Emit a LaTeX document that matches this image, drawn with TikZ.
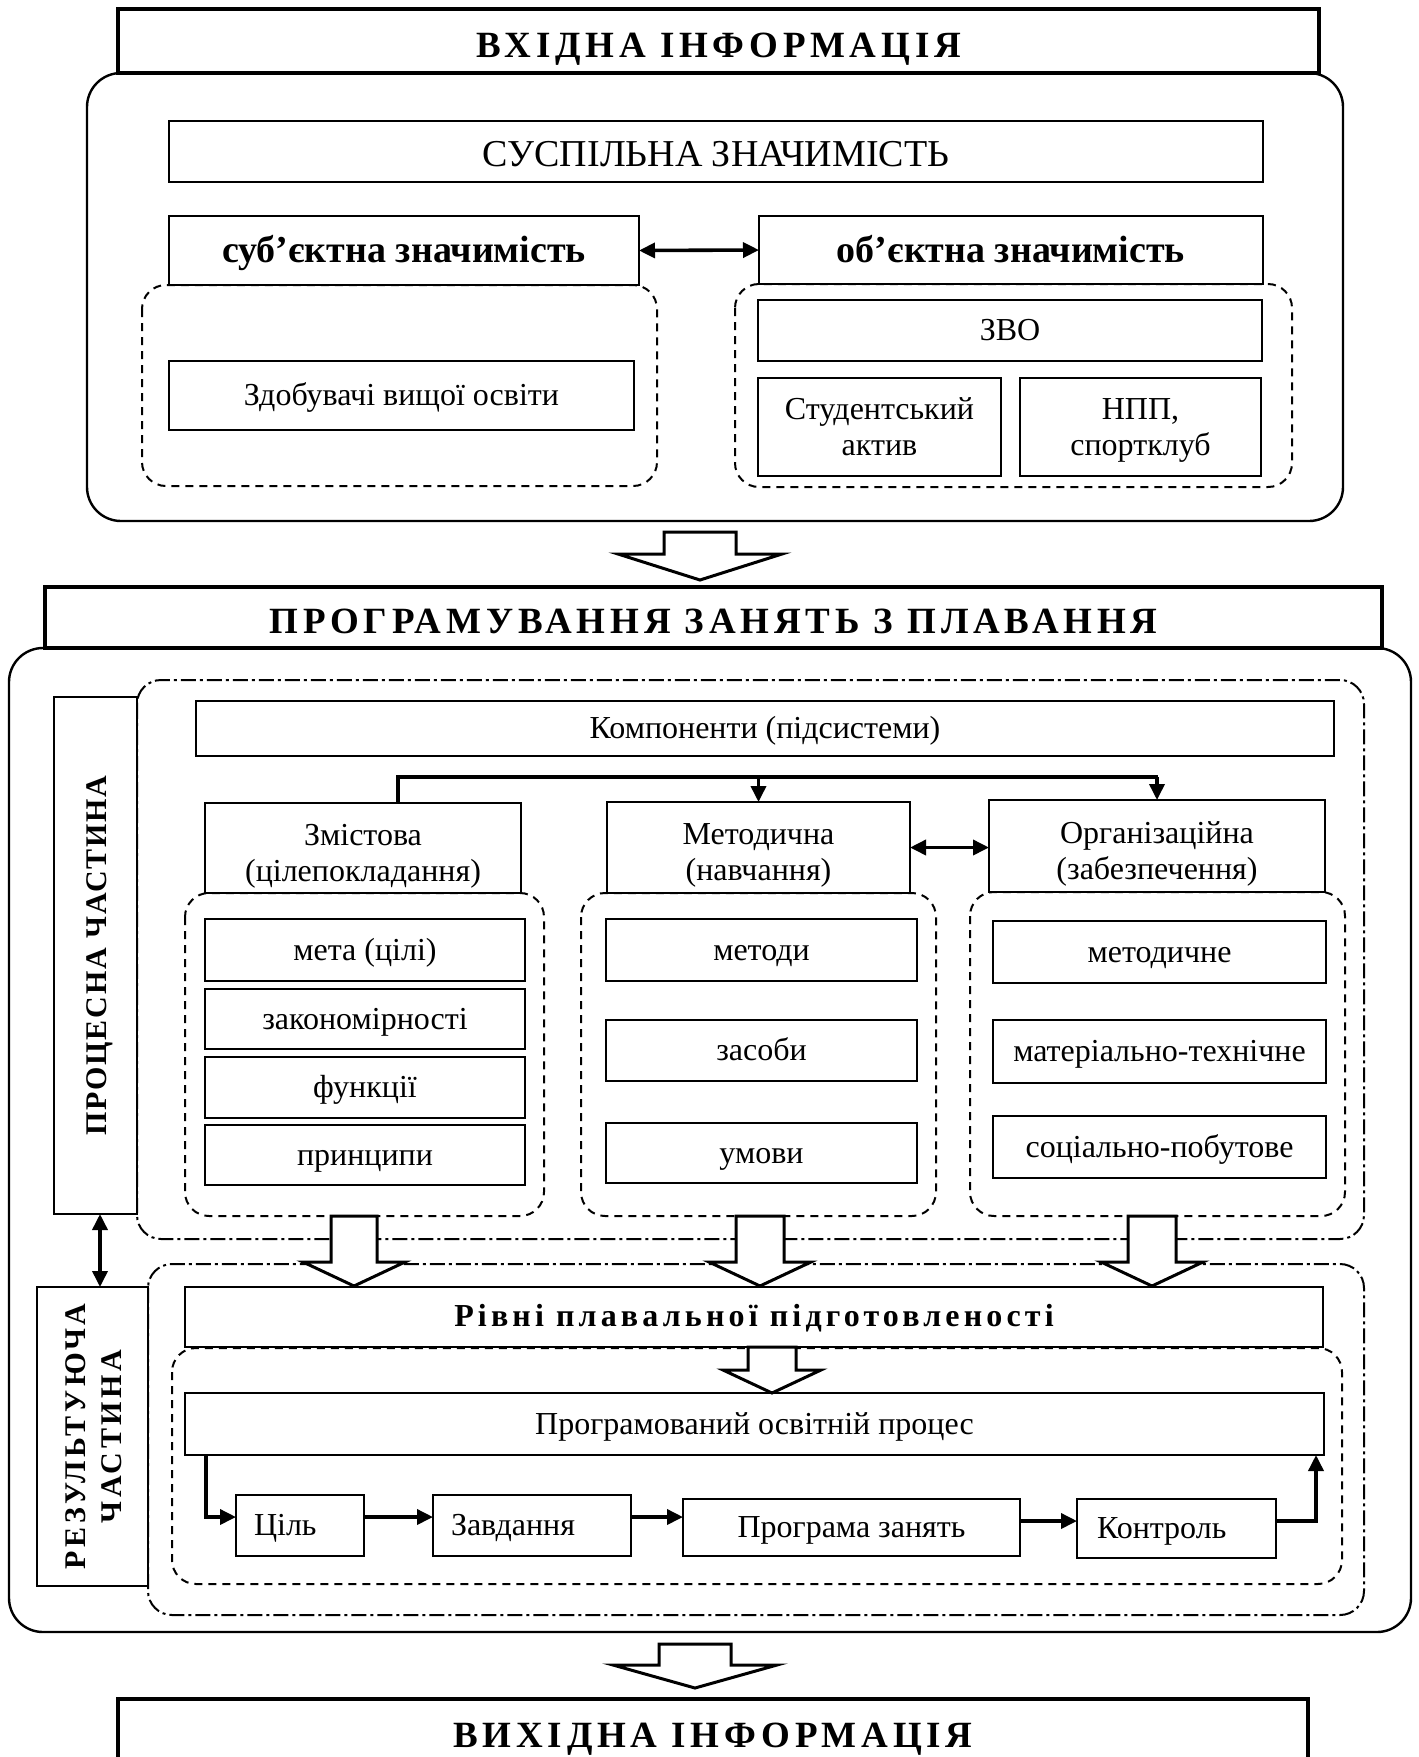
\documentclass[tikz,border=0pt]{standalone}
\usepackage{fontspec}
\setmainfont{Liberation Serif}
\usetikzlibrary{arrows.meta}
\usetikzlibrary{calc}
\usetikzlibrary{positioning}

% box from (x1,y1) to (x2,y2), in pixels of the original scheme
\newcommand{\rbox}[7][]{%
  \node[box,#1,minimum width={(#4-#2)*0.5pt},minimum height={(#5-#3)*0.5pt}] (#6) at ({(#2+#4)/2},{(#3+#5)/2}) {#7};}
% hollow block arrow: centre x, top, neck, tip, half shaft, half head
\newcommand{\fatarrow}[6]{%
  \draw[hollow] ({#1-#5},#2) -- ({#1+#5},#2) -- ({#1+#5},#3) -- ({#1+#6},#3) -- (#1,#4) -- ({#1-#6},#3) -- ({#1-#5},#3) -- cycle;}

\tikzset{
  box/.style={draw,line width=1pt,fill=white,inner sep=0pt,outer sep=0pt,align=center,
    text height=14.5pt,text depth=4.4pt,font=\fontsize{16}{18}\selectfont},
  two/.style={text height=33pt,text depth=4.4pt},
  comp/.style={text height=37.5pt,text depth=4.4pt},
  bigbox/.style={box,line width=1.2pt,text height=20pt,text depth=5pt,font=\fontsize{19}{22}\selectfont},
  subbox/.style={box,line width=1.2pt,text height=17.4pt,text depth=5pt,font=\fontsize{19}{22}\selectfont\bfseries},
  headbox/.style={box,line width=1.8pt,text height=16pt,text depth=0pt,
    font=\fontsize{18.5}{22}\selectfont\bfseries\addfontfeatures{LetterSpace=13}},
  sidebox/.style={box,line width=1.2pt,text height=10.5pt,text depth=0pt,
    font=\fontsize{15}{18}\selectfont\bfseries\addfontfeatures{LetterSpace=6}},
  frame/.style={line width=1.2pt,rounded corners=17pt},
  dashedbox/.style={line width=1pt,dash pattern=on 4pt off 3pt,rounded corners=12pt},
  dashdotbox/.style={line width=1pt,dash pattern=on 7.5pt off 2pt on 1.5pt off 2pt,rounded corners=12pt},
  conn/.style={line width=1.8pt},
  arr/.style={conn,-{Triangle[length=8pt,width=7.5pt]}},
  darr/.style={conn,{Triangle[length=8pt,width=7.5pt]}-{Triangle[length=8pt,width=7.5pt]}},
  hollow/.style={line width=1.5pt,fill=white,line join=miter},
}

\begin{document}
\begin{tikzpicture}[x=0.5pt,y=-0.5pt]
\useasboundingbox (0,0) rectangle (1419,1757);

% input information
\draw[frame] (87,73) rectangle (1343,521);
\rbox[headbox]{118}{9}{1319}{73}{inhead}{ВХІДНА ІНФОРМАЦІЯ}
\rbox[bigbox]{169}{121}{1263}{182}{social}{СУСПІЛЬНА ЗНАЧИМІСТЬ}
\draw[dashedbox] (142,285) rectangle (657,486);
\draw[dashedbox] (735,284) rectangle (1292,487);
\rbox[subbox]{169}{216}{639}{285}{subj}{суб’єктна значимість}
\rbox[subbox]{759}{216}{1263}{284}{obj}{об’єктна значимість}
\rbox{169}{361}{634}{430}{stud}{Здобувачі вищої освіти}
\rbox{758}{300}{1262}{361}{zvo}{ЗВО}
\rbox[two]{758}{378}{1001}{476}{aktiv}{Студентський\\актив}
\rbox[two]{1020}{378}{1261}{476}{npp}{НПП,\\спортклуб}
\draw[darr] (subj.east) -- (obj.west);

\fatarrow{700}{532}{554}{580}{36}{82}

% programming
\draw[frame] (9,648) rectangle (1411,1632);
\rbox[headbox]{45}{587}{1382}{648}{proghead}{ПРОГРАМУВАННЯ ЗАНЯТЬ З ПЛАВАННЯ}

\draw[dashdotbox] (137,680) rectangle (1364,1239);
\node[sidebox,rotate=90,minimum width={(1214-697)*0.5pt},minimum height={(137-54)*0.5pt}] (proc) at ({(54+137)/2},{(697+1214)/2}) {ПРОЦЕСНА ЧАСТИНА};
\rbox{196}{701}{1334}{756}{komp}{Компоненти (підсистеми)}

\draw[dashedbox] (185,893) rectangle (544,1216);
\draw[dashedbox] (581,893) rectangle (936,1216);
\draw[dashedbox] (970,892) rectangle (1345,1216);

\rbox[comp]{205}{803}{521}{893}{zmist}{Змістова\\(цілепокладання)}
\rbox[comp]{607}{802}{910}{893}{metod}{Методична\\(навчання)}
\rbox[comp]{989}{800}{1325}{892}{org}{Організаційна\\(забезпечення)}

\rbox{205}{919}{525}{981}{meta}{мета (цілі)}
\rbox{205}{989}{525}{1049}{zakon}{закономірності}
\rbox{205}{1057}{525}{1118}{funk}{функції}
\rbox{205}{1125}{525}{1185}{princ}{принципи}

\rbox{606}{919}{917}{981}{metody}{методи}
\rbox{606}{1020}{917}{1081}{zasoby}{засоби}
\rbox{606}{1123}{917}{1183}{umovy}{умови}

\rbox{993}{921}{1326}{983}{metodne}{методичне}
\rbox{993}{1020}{1326}{1083}{mattech}{матеріально-технічне}
\rbox{993}{1116}{1326}{1178}{socpob}{соціально-побутове}

\coordinate (busL) at (398,777);
\coordinate (busR) at (1158,777);
\draw[conn] (busL |- zmist.north) -- (busL) -- (busR);
\draw[arr] (metod.north |- busL) -- (metod.north);
\draw[arr] (org.north |- busR) -- (org.north);
\draw[darr] (metod.east) -- (metod.east -| org.west);

% resulting part
\draw[dashdotbox] (148,1264) rectangle (1364,1615);
\node[sidebox,rotate=90,text height=28.5pt,font=\fontsize{15}{18}\selectfont\bfseries\addfontfeatures{LetterSpace=12},minimum width={(1586-1287)*0.5pt},minimum height={(148-37)*0.5pt}] (rez) at ({(37+148)/2},{(1287+1586)/2}) {РЕЗУЛЬТУЮЧА\\ЧАСТИНА};
\coordinate (vx) at (100,0);
\draw[darr] (proc.west -| vx) -- (rez.east -| vx);

\draw[dashedbox] (172,1348) rectangle (1342,1584);
\rbox[text height=13pt,text depth=4pt,font=\fontsize{16}{18}\selectfont\bfseries\addfontfeatures{LetterSpace=13}]{185}{1287}{1323}{1347}{rivni}{Рівні плавальної підготовленості}
\rbox{185}{1393}{1324}{1455}{proces}{Програмований освітній процес}

\rbox[text width={(364-236-36)*0.5pt},align=left,inner xsep=9pt]{236}{1495}{364}{1556}{cil}{Ціль}
\rbox[text width={(631-433-36)*0.5pt},align=left,inner xsep=9pt]{433}{1495}{631}{1556}{zavd}{Завдання}
\rbox{683}{1499}{1020}{1556}{progzan}{Програма занять}
\rbox[text width={(1276-1077-40)*0.5pt},align=left,inner xsep=10pt]{1077}{1499}{1276}{1558}{kontr}{Контроль}

\coordinate (rowL) at (206,1517);
\coordinate (rowR) at (1316,1521);
\draw[arr] (rowL |- proces.south) |- (cil.west |- rowL);
\draw[arr] (cil.east |- rowL) -- (zavd.west |- rowL);
\draw[arr] (zavd.east |- rowL) -- (progzan.west |- rowL);
\draw[arr] (progzan.east |- rowR) -- (kontr.west |- rowR);
\draw[arr] (kontr.east |- rowR) -| (rowR |- proces.south);

\fatarrow{354}{1216}{1262}{1286}{23}{51}
\fatarrow{760}{1216}{1262}{1286}{24}{51}
\fatarrow{1152}{1216}{1262}{1286}{24}{51}
\fatarrow{772}{1347}{1370}{1393}{24}{49}

% output information
\fatarrow{695}{1644}{1665}{1688}{36}{82}
\rbox[headbox]{118}{1699}{1308}{1763}{outhead}{ВИХІДНА ІНФОРМАЦІЯ}
\end{tikzpicture}
\end{document}
